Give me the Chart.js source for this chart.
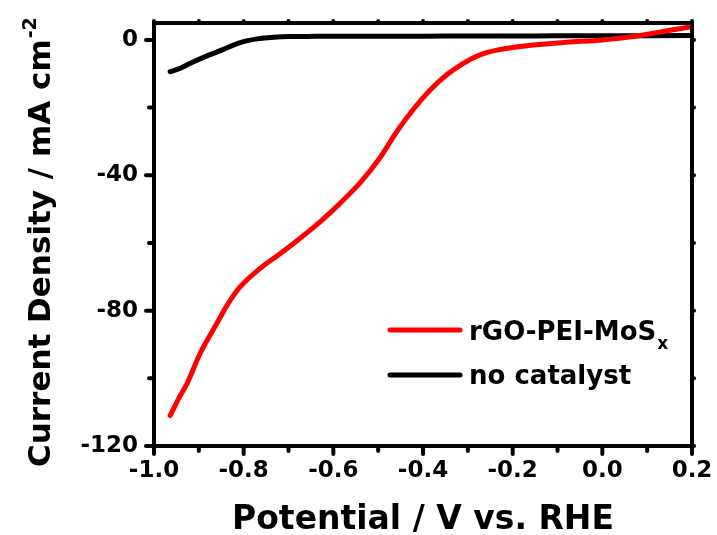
<!DOCTYPE html>
<html><head><meta charset="utf-8">
<script src="https://cdn.jsdelivr.net/npm/chart.js@4/dist/chart.umd.min.js"></script>
<style>html,body{margin:0;padding:0;background:#fff;overflow:hidden}#wrap{position:relative;width:717px;height:535px}</style>
</head><body><div id="wrap"><canvas id="c" width="717" height="535"></canvas></div>
<script>
// ---- data ----
const xTickValues = [-1.0, -0.8, -0.6, -0.4, -0.2, 0.0, 0.2];
const xTickLabels = ['-1.0', '-0.8', '-0.6', '-0.4', '-0.2', '0.0', '0.2'];
const yTickValues = [-120, -80, -40, 0];
const yTickLabels = ['-120', '-80', '-40', '0'];

const redX = [-0.964, -0.945, -0.926, -0.897, -0.860, -0.835, -0.808, -0.763, -0.718, -0.674, -0.629, -0.585, -0.540, -0.496, -0.458, -0.421, -0.384, -0.347, -0.310, -0.273, -0.235, -0.16, -0.08, 0.0, 0.07, 0.11, 0.145, 0.2];
const redY = [-111, -106, -101.5, -92.6, -83.8, -78, -73, -67.5, -63.1, -58.6, -53.7, -48.3, -42.2, -34.8, -27.0, -20.4, -14.8, -10.3, -6.9, -4.4, -3.0, -1.6, -0.7, 0.0, 1.0, 1.9, 2.7, 3.9];

const blackX = [-0.964, -0.94, -0.919, -0.882, -0.845, -0.808, -0.77, -0.733, -0.696, -0.64, -0.585, -0.5, -0.4, -0.3, -0.2, -0.1, 0.0, 0.1, 0.2];
const blackY = [-9.4, -8.3, -6.9, -4.7, -2.8, -0.8, 0.3, 0.8, 1.0, 1.05, 1.1, 1.1, 1.1, 1.15, 1.15, 1.2, 1.2, 1.25, 1.3];

const seriesNames = ['rGO-PEI-MoS', 'no catalyst'];
const seriesSubs = ['x', ''];
const seriesColors = ['#ff0000', '#000000'];
const xTitle = 'Potential / V vs. RHE';
const yTitle = 'Current Density / mA cm';
const yTitleSup = '-2';

const FONT = '"DejaVu Sans", "Liberation Sans", Arial, sans-serif';

function pts(xs, ys) { return xs.map((x, i) => ({ x: x, y: ys[i] })); }

const framePlugin = {
  id: 'frame',
  afterDraw(chart) {
    const ctx = chart.ctx;
    const { left, right, top, bottom } = chart.chartArea;
    const xs = chart.scales.x, ys = chart.scales.y;
    ctx.save();
    ctx.strokeStyle = '#000';
    ctx.lineWidth = 4;
    ctx.lineJoin = 'miter';
    ctx.strokeRect(left, top, right - left, bottom - top);
    ctx.lineCap = 'round';
    function seg(a, b, c, d) { ctx.beginPath(); ctx.moveTo(a, b); ctx.lineTo(c, d); ctx.stroke(); }
    xs.ticks.forEach(t => {
      const px = xs.getPixelForValue(t.value);
      const major = xTickValues.some(v => Math.abs(v - t.value) < 1e-6);
      seg(px, bottom, px, bottom + (major ? 8 : 5));
      seg(px, top, px, top - 2);
    });
    ys.ticks.forEach(t => {
      const py = ys.getPixelForValue(t.value);
      const major = yTickValues.some(v => Math.abs(v - t.value) < 1e-6);
      seg(left, py, left - (major ? 8 : 5), py);
      seg(right, py, right + 2, py);
    });

    // axis titles
    ctx.fillStyle = '#000';
    ctx.textBaseline = 'alphabetic';
    ctx.font = 'bold 33px ' + FONT;
    ctx.textAlign = 'center';
    ctx.fillText(xTitle, (left + right) / 2, 529);

    ctx.save();
    ctx.translate(50, 467);
    ctx.rotate(-Math.PI / 2);
    ctx.textAlign = 'left';
    ctx.font = 'bold 31px ' + FONT;
    ctx.fillText(yTitle, 0, 0);
    const w = ctx.measureText(yTitle).width;
    ctx.font = 'bold 19px ' + FONT;
    ctx.fillText(yTitleSup, w + 1, -14);
    ctx.restore();

    // legend
    const lx0 = 390, lx1 = 460, tx = 469;
    const rows = [{ ly: 330, base: 340 }, { ly: 375, base: 384 }];
    seriesNames.forEach((name, i) => {
      ctx.strokeStyle = seriesColors[i];
      ctx.lineWidth = 5;
      ctx.lineCap = 'round';
      seg(lx0, rows[i].ly, lx1, rows[i].ly);
      ctx.fillStyle = '#000';
      ctx.textAlign = 'left';
      ctx.font = 'bold 26px ' + FONT;
      ctx.fillText(name, tx, rows[i].base);
      if (seriesSubs[i]) {
        const nw = ctx.measureText(name).width;
        ctx.font = 'bold 17px ' + FONT;
        ctx.fillText(seriesSubs[i], tx + nw + 1, rows[i].base + 9);
      }
    });
    ctx.restore();
  }
};

function zeroPad(s) { s.paddingTop = 0; s.paddingBottom = 0; s.paddingLeft = 0; s.paddingRight = 0; }

new Chart(document.getElementById('c'), {
  type: 'line',
  data: {
    datasets: [
      { label: seriesNames[0] + seriesSubs[0], data: pts(redX, redY), borderColor: seriesColors[0], borderWidth: 5, pointRadius: 0, cubicInterpolationMode: 'monotone', fill: false, borderCapStyle: 'round', borderJoinStyle: 'round' },
      { label: seriesNames[1], data: pts(blackX, blackY), borderColor: seriesColors[1], borderWidth: 5, pointRadius: 0, cubicInterpolationMode: 'monotone', fill: false, borderCapStyle: 'round', borderJoinStyle: 'round' }
    ]
  },
  options: {
    responsive: false,
    devicePixelRatio: 1,
    animation: false,
    layout: { padding: { left: 0, right: 25, top: 23, bottom: 0 } },
    plugins: { legend: { display: false }, tooltip: { enabled: false } },
    scales: {
      x: {
        type: 'linear', min: -1.0, max: 0.2,
        afterFit(s) { s.height = 89; zeroPad(s); },
        grid: { display: false, drawTicks: false },
        border: { display: false },
        ticks: {
          stepSize: 0.1, autoSkip: false, maxRotation: 0, includeBounds: false, padding: 11,
          color: '#000', font: { family: FONT, size: 23, weight: 'bold' },
          callback(v) { const i = xTickValues.findIndex(t => Math.abs(t - v) < 1e-6); return i >= 0 ? xTickLabels[i] : ''; }
        }
      },
      y: {
        type: 'linear', min: -120, max: 5,
        afterFit(s) { s.width = 154; zeroPad(s); },
        grid: { display: false, drawTicks: false },
        border: { display: false },
        ticks: {
          stepSize: 20, autoSkip: false, includeBounds: false, padding: 16,
          color: '#000', font: { family: FONT, size: 23, weight: 'bold' },
          callback(v) { const i = yTickValues.findIndex(t => Math.abs(t - v) < 1e-6); return i >= 0 ? yTickLabels[i] : ''; }
        }
      }
    }
  },
  plugins: [framePlugin]
});
</script></body></html>
